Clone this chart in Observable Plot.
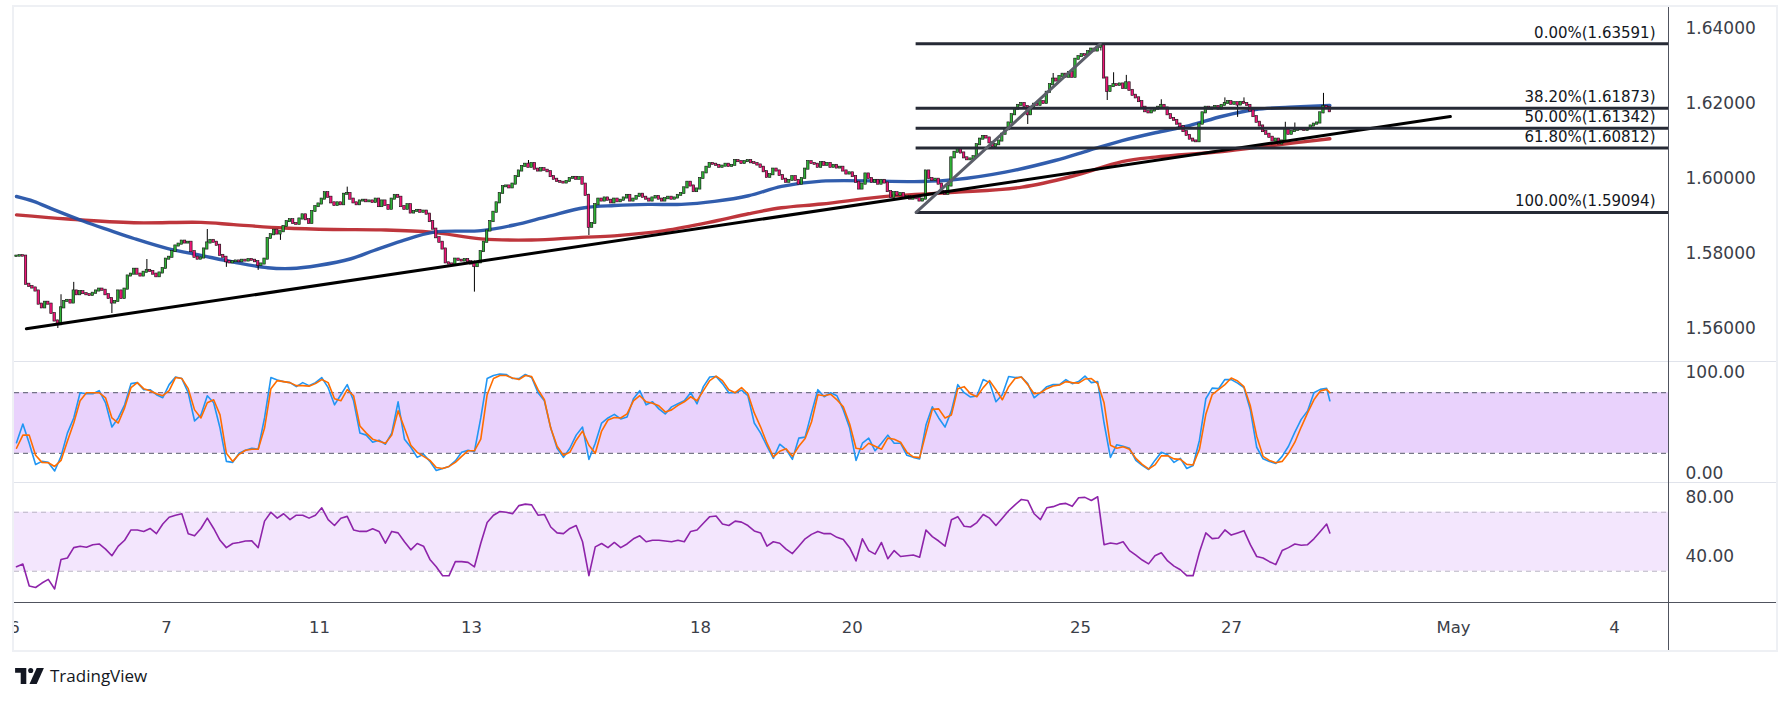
<!DOCTYPE html>
<html><head><meta charset="utf-8">
<script src="https://cdn.jsdelivr.net/npm/d3@7"></script>
<script src="https://cdn.jsdelivr.net/npm/@observablehq/plot@0.6"></script>
<style>
html,body{margin:0;padding:0;background:#fff}
body{width:1791px;height:703px;position:relative;overflow:hidden;font-family:"DejaVu Sans",sans-serif}
.pane{position:absolute;left:14px;width:1762px;overflow:hidden}
.hl{position:absolute;height:1px}
.vl{position:absolute;width:1px}
#logo{position:absolute;left:15px;top:664px;display:flex;align-items:center;gap:6px;font-family:"Open Sans",sans-serif;font-size:17px;color:#131722}
</style></head><body>
<div style="position:absolute;left:12px;top:5px;width:1766px;height:647px;border:2px solid #eef0f4;box-sizing:border-box"></div>
<div class="pane" id="price" style="top:7px;height:354px"></div>
<div class="pane" id="stoch" style="top:361px;height:121px"></div>
<div class="pane" id="rsi" style="top:482px;height:168px"></div>
<div class="hl" style="left:14px;top:361px;width:1762px;background:#e0e3eb"></div>
<div class="hl" style="left:14px;top:482px;width:1762px;background:#e0e3eb"></div>
<div class="hl" style="left:14px;top:602px;width:1762px;background:#50535e"></div>
<div class="vl" style="left:1668px;top:7px;height:643px;background:#50535e"></div>
<div id="logo"><svg width="29" height="16" viewBox="0 0 36 20"><path d="M14 0H0v6h7v14h7z" fill="#131722"/><circle cx="19.5" cy="3.2" r="3.2" fill="#131722"/><path d="M27 0h9L27 20h-9z" fill="#131722"/></svg><span>TradingView</span></div>
<script>
// ---------- data ----------
const firstOpen = 1.5792;
const closes = [
1.5793,1.5794,1.5793,1.5718,1.5712,1.5708,1.5700,1.5665,1.5655,1.5670,
1.5665,1.5640,1.5620,1.5610,1.5655,1.5672,1.5675,1.5668,1.5700,1.5690,
1.5698,1.5693,1.5690,1.5688,1.5694,1.5700,1.5705,1.5702,1.5690,1.5680,
1.5668,1.5672,1.5700,1.5680,1.5705,1.5740,1.5745,1.5758,1.5745,1.5740,
1.5750,1.5755,1.5752,1.5745,1.5738,1.5748,1.5760,1.5785,1.5790,1.5805,
1.5820,1.5825,1.5833,1.5828,1.5830,1.5805,1.5790,1.5785,1.5788,1.5812,
1.5828,1.5835,1.5830,1.5822,1.5795,1.5790,1.5778,1.5775,1.5778,1.5780,
1.5778,1.5782,1.5780,1.5784,1.5782,1.5778,1.5768,1.5772,1.5785,1.5840,
1.5850,1.5862,1.5852,1.5858,1.5872,1.5885,1.5890,1.5880,1.5878,1.5892,
1.5903,1.5890,1.5880,1.5912,1.5925,1.5932,1.5945,1.5962,1.5950,1.5935,
1.5928,1.5935,1.5930,1.5958,1.5960,1.5945,1.5935,1.5930,1.5940,1.5942,
1.5938,1.5940,1.5936,1.5945,1.5925,1.5940,1.5928,1.5918,1.5945,1.5955,
1.5950,1.5925,1.5918,1.5930,1.5908,1.5912,1.5915,1.5910,1.5913,1.5905,
1.5885,1.5865,1.5842,1.5830,1.5812,1.5775,1.5772,1.5768,1.5785,1.5782,
1.5780,1.5784,1.5778,1.5772,1.5765,1.5775,1.5805,1.5830,1.5860,1.5885,
1.5910,1.5935,1.5960,1.5978,1.5980,1.5975,1.5985,1.6005,1.6020,1.6032,
1.6038,1.6030,1.6040,1.6025,1.6020,1.6026,1.6022,1.6018,1.6005,1.5998,
1.5992,1.5990,1.5988,1.5992,1.6000,1.6003,1.5998,1.6002,1.5985,1.5955,
1.5870,1.5880,1.5930,1.5945,1.5940,1.5948,1.5942,1.5935,1.5945,1.5938,
1.5942,1.5948,1.5955,1.5940,1.5945,1.5952,1.5958,1.5950,1.5945,1.5940,
1.5948,1.5952,1.5945,1.5940,1.5946,1.5950,1.5945,1.5948,1.5955,1.5960,
1.5975,1.5990,1.5980,1.5965,1.5972,1.6000,1.6015,1.6030,1.6040,1.6038,
1.6035,1.6030,1.6033,1.6038,1.6032,1.6035,1.6048,1.6045,1.6040,1.6045,
1.6048,1.6042,1.6040,1.6036,1.6030,1.6018,1.6003,1.6010,1.6025,1.6020,
1.6008,1.5998,1.5990,1.5995,1.6005,1.5995,1.5985,1.6000,1.6025,1.6045,
1.6040,1.6038,1.6030,1.6042,1.6035,1.6040,1.6030,1.6035,1.6028,1.6030,
1.6020,1.6012,1.6015,1.6005,1.5990,1.5972,1.5985,1.6012,1.6000,1.5990,
1.5995,1.5985,1.5995,1.5988,1.5965,1.5950,1.5962,1.5955,1.5960,1.5948,
1.5952,1.5945,1.5950,1.5946,1.5940,1.5945,1.6020,1.6000,1.5995,1.5998,
1.5985,1.5965,1.5958,1.5980,1.6055,1.6070,1.6078,1.6068,1.6055,1.6050,
1.6052,1.6058,1.6090,1.6105,1.6112,1.6108,1.6095,1.6085,1.6090,1.6100,
1.6118,1.6130,1.6148,1.6170,1.6185,1.6195,1.6200,1.6192,1.6170,1.6190,
1.6198,1.6195,1.6205,1.6200,1.6230,1.6250,1.6265,1.6260,1.6272,1.6278,
1.6270,1.6282,1.6270,1.6318,1.6325,1.6330,1.6328,1.6338,1.6345,1.6340,
1.6350,1.6355,1.6268,1.6232,1.6245,1.6250,1.6248,1.6252,1.6240,1.6255,
1.6235,1.6222,1.6215,1.6205,1.6190,1.6178,1.6175,1.6180,1.6185,1.6190,
1.6195,1.6188,1.6170,1.6160,1.6155,1.6145,1.6138,1.6125,1.6115,1.6105,
1.6100,1.6098,1.6145,1.6175,1.6190,1.6185,1.6188,1.6192,1.6185,1.6195,
1.6200,1.6205,1.6198,1.6202,1.6196,1.6203,1.6200,1.6195,1.6180,1.6165,
1.6150,1.6140,1.6125,1.6118,1.6110,1.6100,1.6105,1.6092,1.6100,1.6130,
1.6118,1.6125,1.6128,1.6132,1.6130,1.6128,1.6133,1.6140,1.6145,1.6148,
1.6175,1.6192,1.6190,1.6178];
// notable wicks (null = no wick beyond the body)
const wickBars  = [13, 14, 18, 30, 41, 60, 66, 76, 83, 104, 144, 161, 180, 318, 326, 341, 343, 345, 349, 360, 380, 384, 386, 399, 402, 411];
const wickHighs = [1.5622, 1.5690, 1.5723, null, 1.5784, 1.5864, null, null, null, 1.5977, 1.5780, 1.6048, 1.5958, null, 1.6280, 1.63591, null, 1.6282, 1.6275, 1.6210, 1.6215, null, 1.6215, 1.6150, 1.6148, 1.6227];
const wickLows  = [1.5600, null, null, 1.5640, null, null, 1.5763, 1.5755, 1.5835, null, 1.5697, null, 1.5848, 1.6144, null, 1.6340, 1.6208, null, null, null, null, 1.6163, null, null, null, 1.6173];

const blueMaBars = [0,5.4,11.7,21.1,29.6,36.9,47.6,58,68.3,79,86.3,94.8,105.2,112.4,121,131.3,146.1,156.5,167.2,178.6,188,198.7,209.1,219.5,230.2,240.6,253.2,284.7,295.1,310.9,326.6,337.3,347.7,358.1,368.8,379.2,389.6,400.3,413];
const blueMaValues = [1.5952,1.5939,1.5917,1.5886,1.5861,1.5840,1.5813,1.5795,1.5777,1.5762,1.5760,1.5768,1.5786,1.5808,1.5833,1.5857,1.5861,1.5876,1.5899,1.5922,1.5928,1.5931,1.5931,1.5939,1.5954,1.5979,1.5993,1.5992,1.5997,1.6017,1.6048,1.6075,1.6101,1.6122,1.6141,1.6166,1.6184,1.6190,1.6195];
const redMaBars = [0,16.1,36.9,58,68.3,84.1,99.8,114.6,130.4,146.1,161.9,177.6,188,203.8,219.5,230.2,240.6,253.2,274.3,295.1,316.2,332,347.7,358.1,379.2,395,413];
const redMaValues = [1.5903,1.5892,1.5882,1.5883,1.5877,1.5868,1.5864,1.5863,1.5857,1.5839,1.5836,1.5843,1.5847,1.5861,1.5886,1.5906,1.5922,1.5932,1.5953,1.5963,1.5977,1.6006,1.6045,1.6057,1.6072,1.6088,1.6106];

const trendBars = [3.1, 450.9];
const trendPrices = [1.55992, 1.61653];

const fibLabels = ["0.00%", "38.20%", "50.00%", "61.80%", "100.00%"];
const fibPrices = [1.63591, 1.61873, 1.61342, 1.60812, 1.59094];
const fibStartBar = 282.9;
const fibDiagBars = [282.9, 340.8];
const fibDiagPrices = [1.59094, 1.63591];

const priceTicks = [1.56, 1.58, 1.60, 1.62, 1.64];
const stochTicks = [0, 100];
const rsiTicks = [40, 80];
const stochBand = [20, 80];
const rsiBand = [30, 70];

// oscillators sampled every 2 bars (0,2,...,412) plus last bar 413
const stochK = [30.5,49,30,9,12,11,2.5,17,40,55,
80,79,79,82,70,46,55,68,89,90,
83,83,78,75,88,95.5,94,80,52,58,
77,70,45,12,11,20,23,25,24,55,
95,92.5,91,90,86,90,87,90,95,85,
68,78,88,72,40,38,31,33,29,40,
71,34,26,16,19,12,3,5,7,12.5,
21,23,21.6,55,94,97,98.5,98,94,94,
98,95,80,72,45,25,16,25,38,46,
14,30,50,55,58.6,54,56,74,82,68,
71,64,59,66,69,72,80,69,86,95.5,
96,89,80,80,82.5,77,50,40,27,15,
29,24,14,35,36,60,83,76,80,77,
63,45,13,30,35,22.5,30,38,30,30,
18,16,14.5,48,66,55,46,62,88,80,
75.7,76.7,93,90,71,78,96,95,95.5,89,
75,80,86,88,88,93,89,91,96.5,90,
91,50,16,28.5,27,25,13,8,4,13,
21,18.5,11,15,5,8,33,74,84.5,84,
93,93,89.5,85,63,26,14.5,12,10,17,
27,41,53.6,62,80,83.3,84.3,72];
const stochD = [25,38,38,18,11,10.7,7,13,32,50,
72,80,80,80,75,55,50,65,85,90,
84,82,79,77,82,95,94,84,63,55,
70,73,58,20,12,19,23,24,24,45,
84,92,91,90,87,87,86.5,89,93,90,
74,72,83,77,47,40,34,32,30,38,
62,45,28,21,17,13,6,5,7,11,
17,22.6,22.5,34,78,94,97,97,94.5,93,
97,96,83,73,45,27,18,21,33,42,
28,20,42,53,55.5,55,59,72,77,71,
69.5,67,61,63,67.5,71,76,72,82,92,
96.5,92,83,80,85,79,60,46,30,16.5,
22,24.5,17,27,34.7,51,78,77,78.5,73,
66,49,25,24,30,27,24,35,34,31,
21,16.5,15.7,40,63.5,64,55,58,84,86,
79,76,85,92,83,73,86,94,95.5,88,
79,80,84,86.6,87.6,91,90,89.5,93.5,94,
89,70,28,25,26.5,24,15,9,4.5,8.5,
17.5,17.5,14.5,14,9,8.5,24,58.6,78,83,
88,94.5,91.6,86,67,37,17,13,10.7,12,
20,31,46,60,73,81.6,83.3,80];
const rsiValues = [33.1,34.9,20,19,22,24.5,18,38,39,46,
47,46.3,48,48.5,45,40.5,47,51,58,58,
57,59,55.5,62,66.6,68,69,55.5,54,59,
66,59,51,46,48.8,49.5,50.5,50.6,46,64,
70,66,69,65,68,68,66,68,73,65,
61,66,67.2,58,57,57,58.8,57,49,57,
56,50,44.5,48.8,47,38,33,27,26.9,36.5,
36.5,36,33,49,63,68,70.5,70,69,74.5,
75.5,75,68,68.5,60,56,55.5,59,61,50,
27,46.5,48.8,46,49.5,46,48.5,52,54,50,
51,51,50.5,50,51,50,57,58,62.5,67,
67.5,62,61,64,63.3,61,57.3,56,47,50,
49,45,42,47,52,55,57,55.5,55.5,53,
51.5,46,37,52,44,41.6,49.5,38.5,44,40,
40.5,41,39.5,58,53.5,50.5,47,64.9,67,60.5,
60,63,68.5,66,61,66,71,75,78.7,78,
69,65,73,73.8,75.5,76,74,79.8,80.1,78,
80.5,48,49.2,48.5,50,44,40.9,37.6,35,40.5,
42.5,37,33.5,31,27,27,43,56,52.1,52.5,
58,54.5,56,57.5,48,40,39,36.5,34.5,44,
46,48.5,47.6,48,52,57,62,56];

const timeTickBars = [-0.6, 47.2, 95.3, 143.1, 215.1, 262.8, 334.6, 382.1, 451.9, 502.5];
const timeTickLabels = ["6", "7", "11", "13", "18", "20", "25", "27", "May", "4"];

// ---------- layout ----------
const W = 1762, MR = 108;
const xDomain = [-0.63, 519.5];
const upColor = "#2fb236", downColor = "#ee1577";
const axisText = "#3b3e48";
const baseStyle = {fontFamily: "DejaVu Sans", color: axisText, background: "transparent", overflow: "visible"};

const candles = closes.map((c, i) => {
  const o = i === 0 ? firstOpen : closes[i - 1];
  const k = wickBars.indexOf(i);
  const wh = k >= 0 ? wickHighs[k] : null;
  const wl = k >= 0 ? wickLows[k] : null;
  return {i, o, c, up: c >= o,
    hi: wh != null ? Math.max(wh, o, c) : Math.max(o, c),
    lo: wl != null ? Math.min(wl, o, c) : Math.min(o, c)};
});
const blueMa = blueMaBars.map((b, k) => ({b, v: blueMaValues[k]}));
const redMa = redMaBars.map((b, k) => ({b, v: redMaValues[k]}));
const trend = trendBars.map((b, k) => ({b, v: trendPrices[k]}));
const fibDiag = fibDiagBars.map((b, k) => ({b, v: fibDiagPrices[k]}));
const fibRows = fibPrices.map((p, k) => ({p, a: fibStartBar, z: xDomain[1], label: `${fibLabels[k]}(${p.toFixed(5)})`}));

const oscBars = d3.range(0, 413, 2).concat([413]);
const osc = oscBars.map((b, k) => ({b, k: stochK[k], d: stochD[k], r: rsiValues[k]}));

const bodyOpts = (color) => ({
  x1: d => d.i - 0.38, x2: d => d.i + 0.38, y1: "o", y2: "c",
  fill: color, stroke: "#111", strokeWidth: 0.6, insetTop: -0.6, insetBottom: -0.6
});

const price = Plot.plot({
  width: W, height: 354, marginLeft: 0, marginRight: MR, marginTop: 0, marginBottom: 0,
  style: baseStyle,
  x: {domain: xDomain, axis: null},
  y: {domain: [1.5512, 1.6456], axis: null},
  marks: [
    Plot.line(redMa, {x: "b", y: "v", stroke: "#b8252b", strokeWidth: 3.4, strokeOpacity: 0.92, curve: "catmull-rom"}),
    Plot.line(blueMa, {x: "b", y: "v", stroke: "#1f4fa6", strokeWidth: 3.4, strokeOpacity: 0.92, curve: "catmull-rom"}),
    Plot.ruleX(candles, {x: "i", y1: "lo", y2: "hi", stroke: "#000", strokeWidth: 1}),
    Plot.rect(candles.filter(d => d.up), bodyOpts(upColor)),
    Plot.rect(candles.filter(d => !d.up), bodyOpts(downColor)),
    Plot.line(trend, {x: "b", y: "v", stroke: "#000", strokeWidth: 3}),
    Plot.ruleY(fibRows, {y: "p", x1: "a", x2: "z", stroke: "#262a35", strokeWidth: 3}),
    Plot.line(fibDiag, {x: "b", y: "v", stroke: "#5b5e69", strokeWidth: 3}),
    Plot.text(fibRows, {x: "z", y: "p", text: "label", textAnchor: "end", dx: -13, dy: -11, fontSize: 15, fill: "#131722"}),
    Plot.axisY(priceTicks, {anchor: "right", tickSize: 0, tickPadding: 17, tickFormat: d => d.toFixed(5), fontSize: 17, fill: axisText})
  ]
});
document.getElementById("price").append(price);

const stoch = Plot.plot({
  width: W, height: 121, marginLeft: 0, marginRight: MR, marginTop: 0, marginBottom: 0,
  style: baseStyle,
  x: {domain: xDomain, axis: null},
  y: {domain: [-8.9, 110.9], axis: null},
  marks: [
    Plot.rect([{a: xDomain[0], z: xDomain[1], lo: stochBand[0], hi: stochBand[1]}], {x1: "a", x2: "z", y1: "lo", y2: "hi", fill: "#e9d2fc"}),
    Plot.ruleY(stochBand, {stroke: "#55586a", strokeWidth: 1, strokeDasharray: "5,4"}),
    Plot.line(osc, {x: "b", y: "k", stroke: "#2196f3", strokeWidth: 1.6}),
    Plot.line(osc, {x: "b", y: "d", stroke: "#ff6d00", strokeWidth: 1.6}),
    Plot.axisY(stochTicks, {anchor: "right", tickSize: 0, tickPadding: 17, tickFormat: d => d.toFixed(2), fontSize: 17, fill: axisText})
  ]
});
document.getElementById("stoch").append(stoch);

const timeLabelOf = new Map(timeTickBars.map((b, k) => [b, timeTickLabels[k]]));
const rsi = Plot.plot({
  width: W, height: 168, marginLeft: 0, marginRight: MR, marginTop: 0, marginBottom: 48,
  style: baseStyle,
  x: {domain: xDomain, axis: null},
  y: {domain: [8.81, 90.17], axis: null},
  marks: [
    Plot.rect([{a: xDomain[0], z: xDomain[1], lo: rsiBand[0], hi: rsiBand[1]}], {x1: "a", x2: "z", y1: "lo", y2: "hi", fill: "#f3e6fd"}),
    Plot.ruleY(rsiBand, {stroke: "#b9b3c4", strokeWidth: 1, strokeDasharray: "5,4"}),
    Plot.line(osc, {x: "b", y: "r", stroke: "#8e24aa", strokeWidth: 1.6}),
    Plot.axisY(rsiTicks, {anchor: "right", tickSize: 0, tickPadding: 17, tickFormat: d => d.toFixed(2), fontSize: 17, fill: axisText}),
    Plot.axisX(timeTickBars, {anchor: "bottom", tickSize: 0, tickPadding: 19, tickFormat: d => timeLabelOf.get(d), fontSize: 16.5, fill: axisText})
  ]
});
document.getElementById("rsi").append(rsi);
</script>
</body></html>
